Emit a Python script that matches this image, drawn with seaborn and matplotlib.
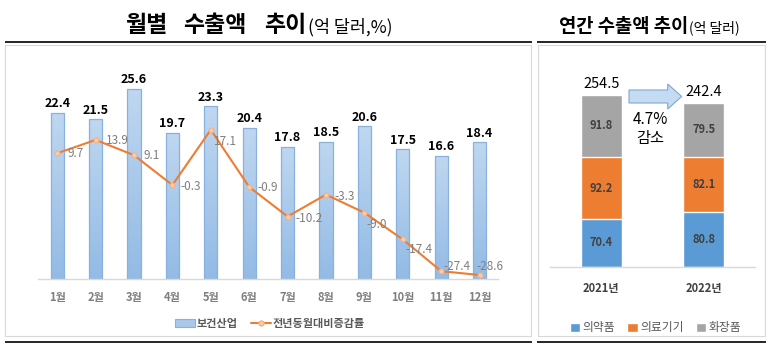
import numpy as np
import matplotlib
matplotlib.use("Agg")
import matplotlib.pyplot as plt
import seaborn as sns
from matplotlib.patches import Patch, Rectangle, FancyArrow
from matplotlib.lines import Line2D
from matplotlib.colors import LinearSegmentedColormap

# ---------------- data ----------------
months = ["1월", "2월", "3월", "4월", "5월", "6월", "7월", "8월", "9월", "10월", "11월", "12월"]
exports = [22.4, 21.5, 25.6, 19.7, 23.3, 20.4, 17.8, 18.5, 20.6, 17.5, 16.6, 18.4]
growth = [9.7, 13.9, 9.1, -0.3, 17.1, -0.9, -10.2, -3.3, -9.0, -17.4, -27.4, -28.6]

years = ["2021년", "2022년"]
pharma = [70.4, 80.8]
devices = [92.2, 82.1]
cosmetics = [91.8, 79.5]
totals = [254.5, 242.4]
segment_names = ["의약품", "의료기기", "화장품"]
change_text = ["4.7%", "감소"]

left_title = "월별 수출액 추이"
left_unit = "(억 달러,%)"
right_title = "연간 수출액 추이"
right_unit = "(억 달러)"
left_legend = ["보건산업", "전년동월대비증감률"]

# label offsets for growth labels (pixels: dx, dy up)
rate_offsets = [(10, 0), (10, 0), (10, 0), (8, -1), (3, -11), (8, 0),
                (8, -1), (8, -1), (2, -11), (3, -10), (2, 5), (-3, 9)]
# pixel centres of the title words (left chart)
title_word_x = [146.5, 215, 285]

# ---------------- style ----------------
sns.set_theme(style="white")
plt.rcParams['font.family'] = ['Noto Sans CJK KR', 'DejaVu Sans']

W, H = 775, 350
fig = plt.figure(figsize=(7.75, 3.5), dpi=100)
fig.patch.set_facecolor("white")


def px_axes(x0, y0, x1, y1):
    return fig.add_axes([x0 / W, 1 - y1 / H, (x1 - x0) / W, (y1 - y0) / H])


BAR_FILL = "#A9C8EA"
BAR_EDGE = "#88B1E0"
ORANGE = "#ED7D31"
GRAY_TXT = "#7F7F7F"

# ---------------- left chart ----------------
ax = px_axes(37.7, 60, 498, 279)
ax.set_facecolor("none")
sns.barplot(x=months, y=exports, ax=ax, color=BAR_FILL, saturation=1,
            width=0.34, edgecolor=BAR_EDGE, linewidth=0.9)

cmap = LinearSegmentedColormap.from_list("g", ["#93BBE5", "#BFD7F0"])
grad = np.linspace(0, 1, 100).reshape(-1, 1)
for p in list(ax.patches):
    x0, y0 = p.get_x(), p.get_y()
    w, h = p.get_width(), p.get_height()
    im = ax.imshow(grad, extent=[x0, x0 + w, y0, y0 + h], origin="lower",
                   cmap=cmap, aspect="auto", zorder=p.get_zorder() - 0.1)
    im.set_clip_path(p)
    p.set_facecolor("none")

for i, v in enumerate(exports):
    ax.annotate(f"{v:.1f}", (i, v), xytext=(0, 5.5), textcoords="offset pixels",
                ha="center", va="baseline", fontsize=9, fontweight="bold", color="black")

ax.set_xlim(-0.508, 11.48)
ax.set_ylim(0, 29.5)
ax.set_yticks([])
ax.set_xlabel("")
ax.set_ylabel("")
for s in ["top", "right", "left"]:
    ax.spines[s].set_visible(False)
ax.spines["bottom"].set_color("#D9D9D9")
ax.spines["bottom"].set_linewidth(1.0)
ax.set_xticks(range(len(months)))
ax.set_xticklabels(months, fontsize=8, fontweight="bold", color=GRAY_TXT)
ax.tick_params(axis="x", length=0, pad=9)

ax2 = ax.twinx()
sns.lineplot(x=np.arange(len(growth)), y=growth, ax=ax2, color=ORANGE, linewidth=1.5,
             marker="o", markersize=3.6, markerfacecolor="#F8CBAD",
             markeredgecolor="#F4B183", markeredgewidth=0.8)
for i, v in enumerate(growth):
    dx, dy = rate_offsets[i]
    ax2.annotate(f"{v:.1f}", (i, v), xytext=(dx, dy - 4), textcoords="offset pixels",
                 ha="left", va="baseline", fontsize=8.5, color=GRAY_TXT)
ax2.set_ylim(-29.86, 39.05)
ax2.set_xlim(-0.508, 11.48)
ax2.set_yticks([])
ax2.set_ylabel("")
for s in ["top", "right", "left", "bottom"]:
    ax2.spines[s].set_visible(False)

# ---------------- right chart ----------------
axr = px_axes(550, 60, 755, 266.7)
axr.set_facecolor("none")
cum1 = np.array(pharma)
cum2 = cum1 + np.array(devices)
cum3 = cum2 + np.array(cosmetics)
seg_colors = ["#5B9BD5", ORANGE, "#A5A5A5"]
sns.barplot(x=years, y=cum3, ax=axr, color=seg_colors[2], saturation=1, width=0.4)
sns.barplot(x=years, y=cum2, ax=axr, color=seg_colors[1], saturation=1, width=0.4)
sns.barplot(x=years, y=cum1, ax=axr, color=seg_colors[0], saturation=1, width=0.4)

for i in range(len(years)):
    bottoms = [0, cum1[i], cum2[i]]
    vals = [pharma[i], devices[i], cosmetics[i]]
    for b, v in zip(bottoms, vals):
        axr.text(i, b + v / 2, f"{v:.1f}", ha="center", va="center",
                 fontsize=8, fontweight="bold", color="#404040")
    axr.annotate(f"{totals[i]:.1f}", (i, cum3[i]), xytext=(0, 7), textcoords="offset pixels",
                 ha="center", va="baseline", fontsize=10.5, color="black")

axr.set_xlim(-0.5, 1.5)
axr.set_ylim(0, 306.2)
axr.set_yticks([])
axr.set_xlabel("")
axr.set_ylabel("")
for s in ["top", "right", "left"]:
    axr.spines[s].set_visible(False)
axr.spines["bottom"].set_color("#D9D9D9")
axr.spines["bottom"].set_linewidth(1.0)
axr.set_xticks(range(len(years)))
axr.set_xticklabels(years, fontsize=8, fontweight="bold", color="#404040")
axr.tick_params(axis="x", length=0, pad=11)

# ---------------- legends ----------------
h1 = [Patch(facecolor=BAR_FILL, edgecolor=BAR_EDGE, linewidth=0.8),
      Line2D([], [], color=ORANGE, linewidth=1.5, marker="o", markersize=3.6,
             markerfacecolor="#F8CBAD", markeredgecolor="#F4B183")]
fig.legend(handles=h1, labels=left_legend, loc="center",
           bbox_to_anchor=(270 / W, 1 - 323.4 / H), ncol=2, frameon=False,
           prop=dict(size=8, weight="bold"), labelcolor="#595959",
           handlelength=1.8, handletextpad=0.15, columnspacing=1.2)

h2 = [Patch(facecolor=c) for c in seg_colors]
fig.legend(handles=h2, labels=segment_names, loc="center",
           bbox_to_anchor=(655.5 / W, 1 - 328 / H), ncol=3, frameon=False,
           prop=dict(size=8.5), labelcolor="#595959",
           handlelength=0.9, handleheight=0.7, handletextpad=0.2, columnspacing=1.0)

# ---------------- overlay decorations ----------------
ov = fig.add_axes([0, 0, 1, 1], facecolor="none")
ov.set_xlim(0, W)
ov.set_ylim(H, 0)
ov.axis("off")

ov.add_patch(Rectangle((5, 45), 526, 290.7, fill=False, edgecolor="#D9D9D9", lw=0.8))
ov.add_patch(Rectangle((537.7, 45), 227.3, 290.7, fill=False, edgecolor="#D9D9D9", lw=0.8))
for yy in (41.7, 342.3):
    ov.plot([5, 532], [yy, yy], color="black", lw=1.2, solid_capstyle="butt")
    ov.plot([536.7, 766], [yy, yy], color="black", lw=1.2, solid_capstyle="butt")

for word, xc in zip(left_title.split(" "), title_word_x):
    ov.text(xc, 32, word, ha="center", va="baseline", fontsize=16.5,
            fontweight="bold", color="black")
ov.text(308, 32, left_unit, ha="left", va="baseline", fontsize=12.5, color="black")
ov.text(688, 32, right_title, ha="right", va="baseline", fontsize=13.5, fontweight="bold", color="black")
ov.text(689, 32, right_unit, ha="left", va="baseline", fontsize=10, color="black")

ov.add_patch(FancyArrow(629, 96.5, 52.7, 0, width=13, head_width=25, head_length=14,
                        length_includes_head=True, facecolor="#C5DBF1",
                        edgecolor="#7EA6D6", lw=0.8))
ov.text(650, 120, change_text[0], ha="center", va="center", fontsize=11, color="black")
ov.text(650, 138, change_text[1], ha="center", va="center", fontsize=11, color="black")

fig.savefig("out.png", dpi=100)
